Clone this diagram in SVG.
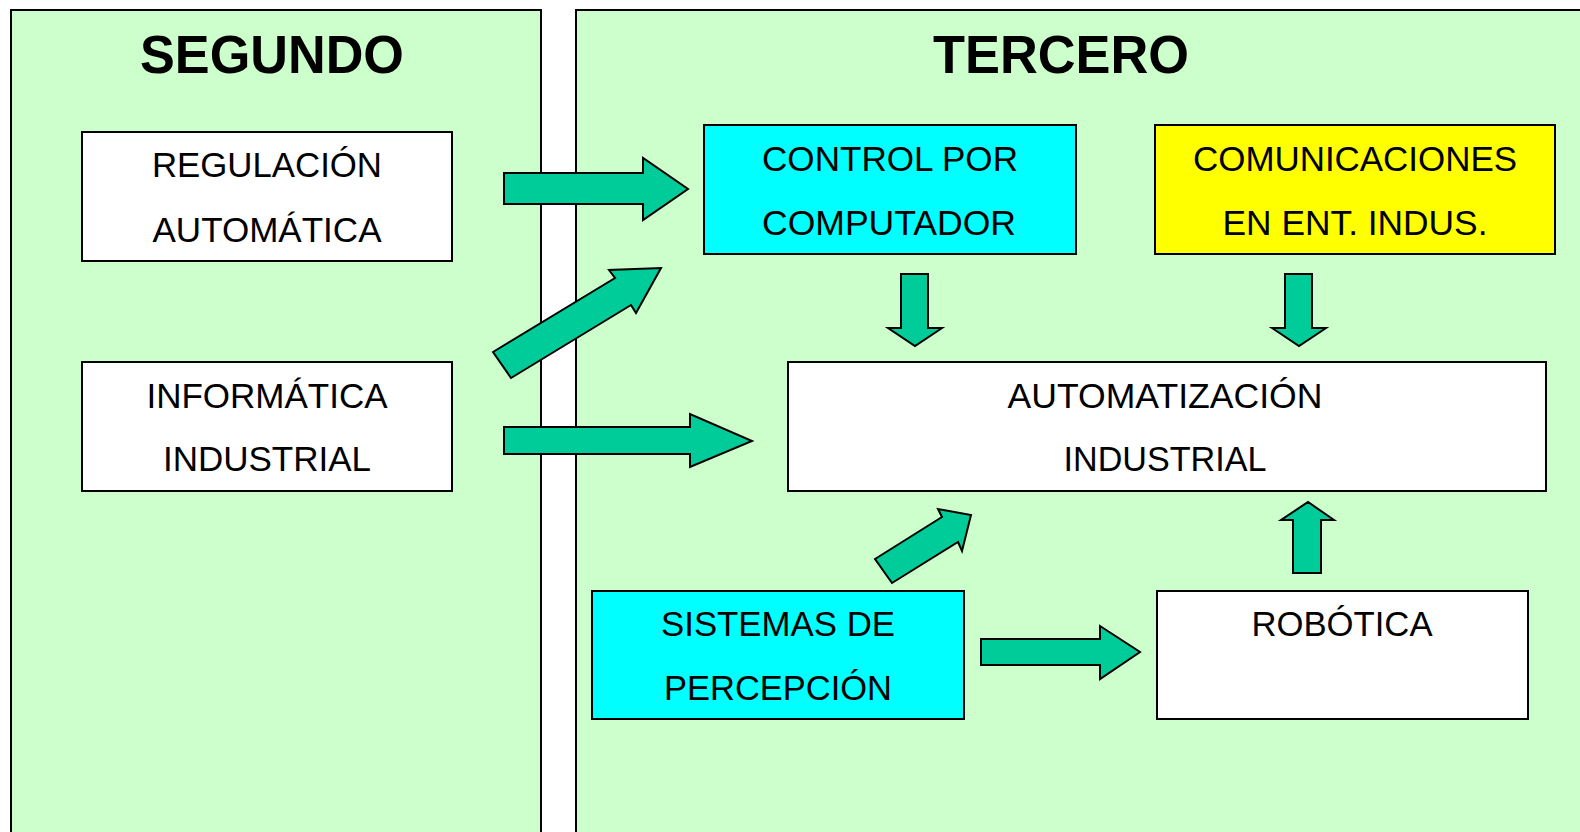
<svg xmlns="http://www.w3.org/2000/svg" width="1580" height="832" viewBox="0 0 1580 832">
<style>
.panel{fill:#CCFFCC;stroke:#000;stroke-width:2}
.box{stroke:#000;stroke-width:2}
.arrow{fill:#00CC99;stroke:#000;stroke-width:2;stroke-linejoin:miter}
.t{font-family:"Liberation Sans",Arial,sans-serif;font-size:35px;fill:#000;text-anchor:middle}
.h{font-family:"Liberation Sans",Arial,sans-serif;font-size:54px;font-weight:bold;fill:#000;text-anchor:middle}
</style>
<rect width="1580" height="832" fill="#FFFFFF"/>
<g id="panel-segundo">
<rect class="panel" x="11" y="10" width="530" height="840"/>
<text class="h" x="272" y="73" textLength="264" lengthAdjust="spacingAndGlyphs">SEGUNDO</text>
</g>
<g id="panel-tercero">
<rect class="panel" x="576" y="10" width="1020" height="840"/>
<text class="h" x="1061" y="73" textLength="256" lengthAdjust="spacingAndGlyphs">TERCERO</text>
</g>
<g id="connectors">
<polygon class="arrow" points="504,173 643,173 643,158 688,189 643,220 643,204 504,204"/>
<polygon class="arrow" points="493,352 615,278 609,270 661,268 636,313 631,305 511,378"/>
<polygon class="arrow" points="504,427 690,427 690,414 752,441 690,467 690,454 504,454"/>
<polygon class="arrow" points="901,274 928,274 928,328 942,328 915,346 888,328 901,328"/>
<polygon class="arrow" points="1285,274 1312,274 1312,328 1326,328 1299,346 1272,328 1285,328"/>
<polygon class="arrow" points="875,559 942,517 938,509 971,515 962,551 958,542 892,583"/>
<polygon class="arrow" points="1293,573 1293,520 1281,520 1308,502 1334,520 1321,520 1321,573"/>
<polygon class="arrow" points="981,639 1100,639 1100,626 1140,652 1100,679 1100,665 981,665"/>
</g>
<g id="node-regulacion">
<rect class="box" x="82" y="132" width="370" height="129" fill="#FFFFFF"/>
<text class="t" x="267" y="177" textLength="230" lengthAdjust="spacingAndGlyphs">REGULACIÓN</text>
<text class="t" x="267" y="242" textLength="229" lengthAdjust="spacingAndGlyphs">AUTOMÁTICA</text>
</g>
<g id="node-informatica">
<rect class="box" x="82" y="362" width="370" height="129" fill="#FFFFFF"/>
<text class="t" x="267" y="408" textLength="241" lengthAdjust="spacingAndGlyphs">INFORMÁTICA</text>
<text class="t" x="267" y="471" textLength="208" lengthAdjust="spacingAndGlyphs">INDUSTRIAL</text>
</g>
<g id="node-control">
<rect class="box" x="704" y="125" width="372" height="129" fill="#00FFFF"/>
<text class="t" x="890" y="171" textLength="256" lengthAdjust="spacingAndGlyphs">CONTROL POR</text>
<text class="t" x="889" y="235" textLength="254" lengthAdjust="spacingAndGlyphs">COMPUTADOR</text>
</g>
<g id="node-comunicaciones">
<rect class="box" x="1155" y="125" width="400" height="129" fill="#FFFF00"/>
<text class="t" x="1355" y="171" textLength="324" lengthAdjust="spacingAndGlyphs">COMUNICACIONES</text>
<text class="t" x="1355" y="235" textLength="265" lengthAdjust="spacingAndGlyphs">EN ENT. INDUS.</text>
</g>
<g id="node-automatizacion">
<rect class="box" x="788" y="362" width="758" height="129" fill="#FFFFFF"/>
<text class="t" x="1165" y="408" textLength="315" lengthAdjust="spacingAndGlyphs">AUTOMATIZACIÓN</text>
<text class="t" x="1165" y="471" textLength="203" lengthAdjust="spacingAndGlyphs">INDUSTRIAL</text>
</g>
<g id="node-sistemas">
<rect class="box" x="592" y="591" width="372" height="128" fill="#00FFFF"/>
<text class="t" x="778" y="636" textLength="234" lengthAdjust="spacingAndGlyphs">SISTEMAS DE</text>
<text class="t" x="778" y="700" textLength="228" lengthAdjust="spacingAndGlyphs">PERCEPCIÓN</text>
</g>
<g id="node-robotica">
<rect class="box" x="1157" y="591" width="371" height="128" fill="#FFFFFF"/>
<text class="t" x="1342" y="636" textLength="181" lengthAdjust="spacingAndGlyphs">ROBÓTICA</text>
</g>
</svg>
